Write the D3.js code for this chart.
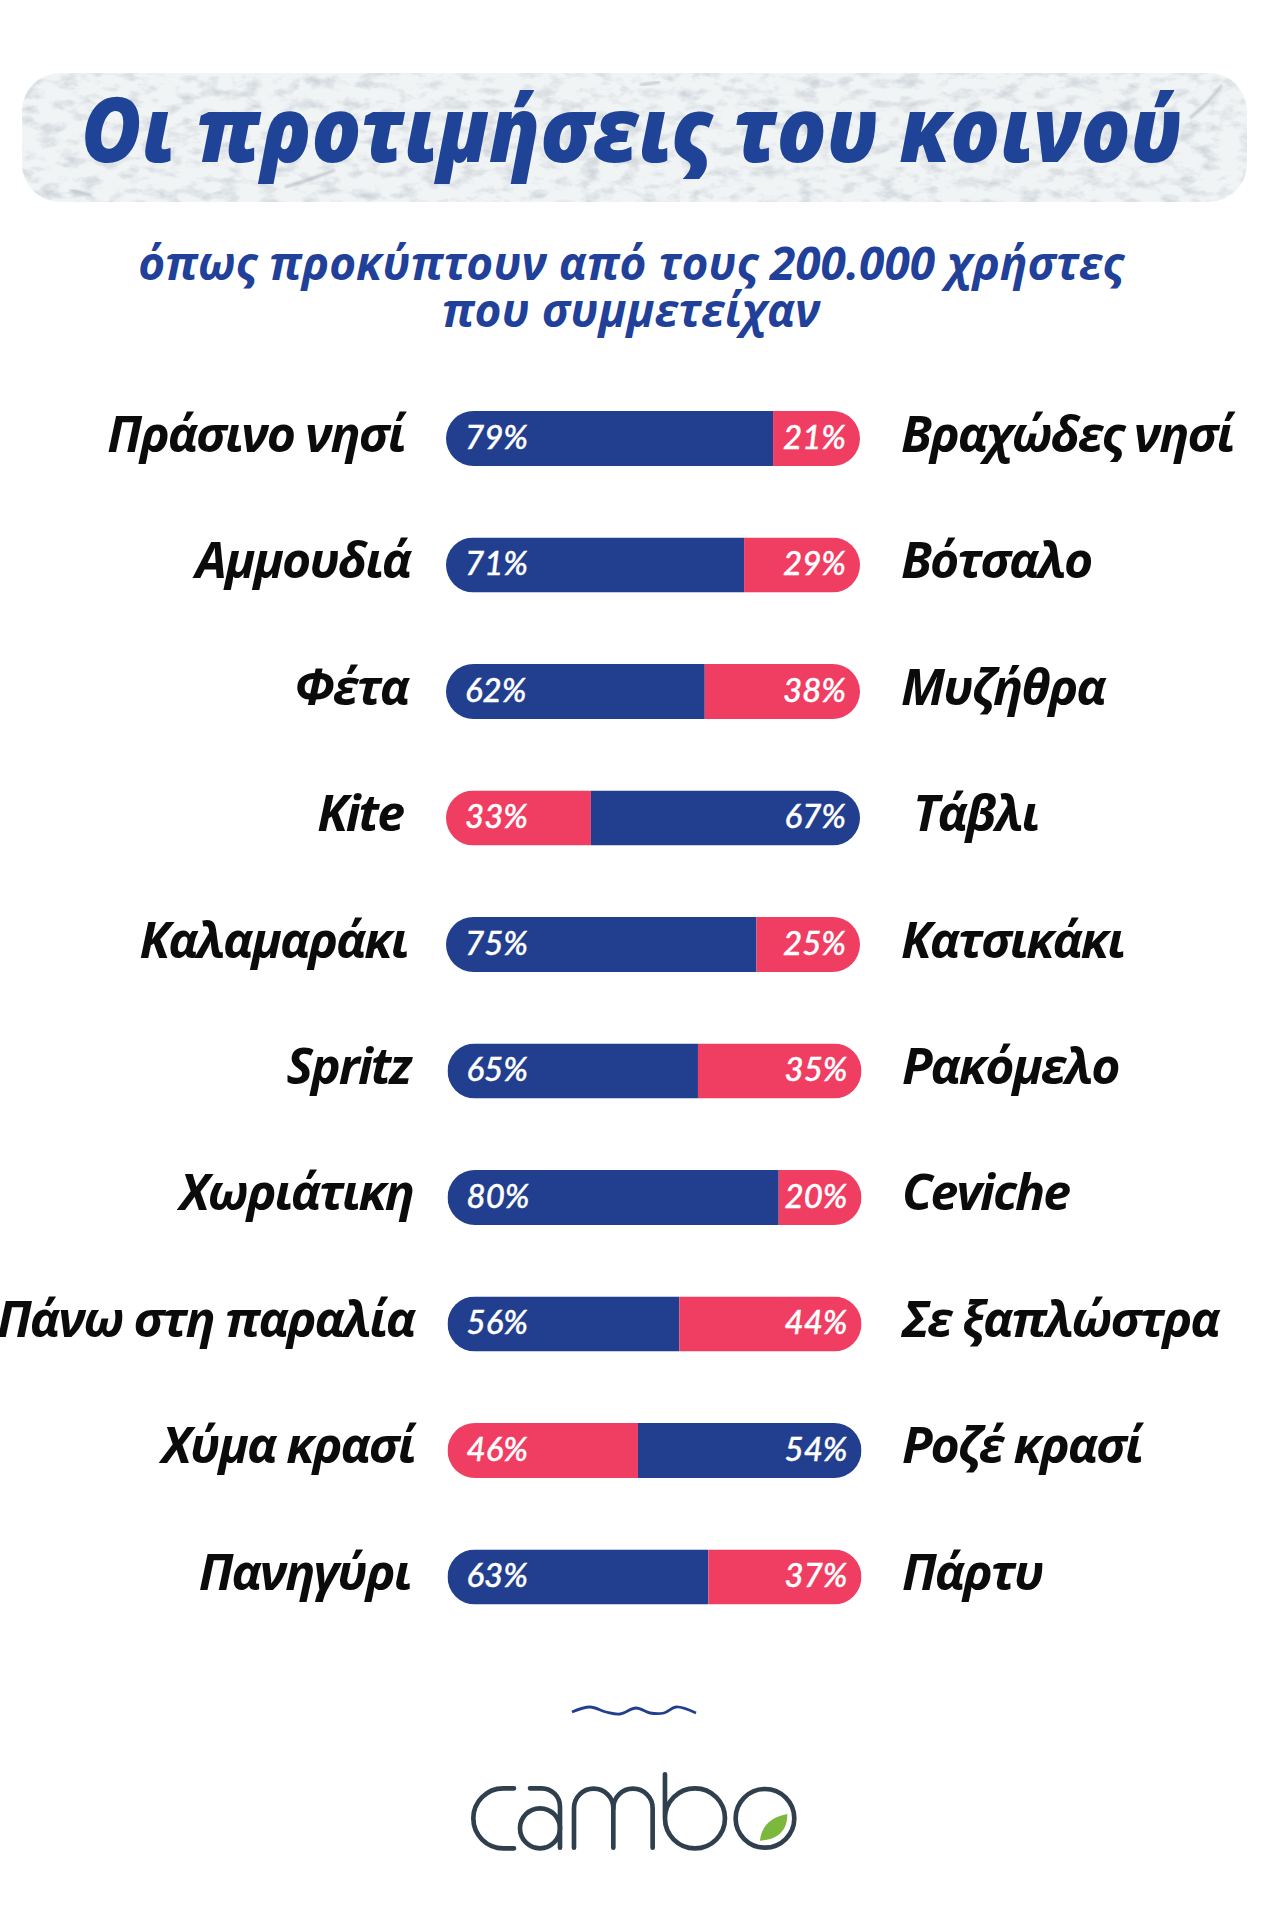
<!DOCTYPE html>
<html>
<head>
<meta charset="utf-8">
<script src="https://cdnjs.cloudflare.com/ajax/libs/d3/7.8.5/d3.min.js"></script>
<style>
  body { margin: 0; background: #fff; }
  svg { display: block; }
</style>
</head>
<body>
<svg id="chart"></svg>
<script>
// data
const leftLabels = ["Πράσινο νησί", "Αμμουδιά", "Φέτα", "Kite", "Καλαμαράκι", "Spritz", "Χωριάτικη", "Πάνω στη παραλία", "Χύμα κρασί", "Πανηγύρι"];
const rightLabels = ["Βραχώδες νησί", "Βότσαλο", "Μυζήθρα", "Τάβλι", "Κατσικάκι", "Ρακόμελο", "Ceviche", "Σε ξαπλώστρα", "Ροζέ κρασί", "Πάρτυ"];
const leftValues = [79, 71, 62, 33, 75, 65, 80, 56, 46, 63];
const rightValues = [21, 29, 38, 67, 25, 35, 20, 44, 54, 37];
// the printed bars do not always agree with their printed labels
const leftBarShares = [79, 72, 62.5, 35, 75, 60.5, 80, 56, 46, 63];

const titleText = "Οι προτιμήσεις του κοινού";
const subtitleLines = ["όπως προκύπτουν από τους 200.000 χρήστες", "που συμμετείχαν"];

const width = 1262, height = 1920;
const blue = "#223f8f", red = "#f03e63", logoColor = "#2f3f4d";

const svg = d3.select("#chart").attr("width", width).attr("height", height);
const defs = svg.append("defs");

// stone texture for the title banner
const stone = defs.append("filter").attr("id", "stone")
  .attr("x", 0).attr("y", 0).attr("width", "100%").attr("height", "100%");
stone.append("feTurbulence").attr("type", "fractalNoise")
  .attr("baseFrequency", "0.05 0.09").attr("numOctaves", 5).attr("seed", 11);
stone.append("feColorMatrix").attr("type", "matrix")
  .attr("values", "0 0 0 0 0.62  0 0 0 0 0.66  0 0 0 0 0.70  2.4 0 0 0 -1.12");
stone.append("feComposite").attr("in2", "SourceGraphic").attr("operator", "in");
const soft = defs.append("filter").attr("id", "soft");
soft.append("feGaussianBlur").attr("stdDeviation", 1.2);

const banner = { x: 22, y: 73, w: 1225, h: 129, r: 38 };
defs.append("clipPath").attr("id", "bannerClip").append("rect")
  .attr("x", banner.x).attr("y", banner.y)
  .attr("width", banner.w).attr("height", banner.h).attr("rx", banner.r);
const bannerG = svg.append("g").attr("clip-path", "url(#bannerClip)");
bannerG.append("rect").attr("x", banner.x).attr("y", banner.y)
  .attr("width", banner.w).attr("height", banner.h).attr("fill", "#f1f4f5");
bannerG.append("rect").attr("x", banner.x).attr("y", banner.y)
  .attr("width", banner.w).attr("height", banner.h).attr("fill", "#fff").attr("filter", "url(#stone)");
// a few cracks in the stone
["M285,187 L305,181 L335,170", "M1190,118 L1205,105 L1222,85", "M70,190 L90,195", "M640,85 L660,82"]
  .forEach(d => bannerG.append("path").attr("d", d).attr("fill", "none")
    .attr("stroke", "#aeb4ba").attr("stroke-width", 2.5).attr("opacity", 0.7).attr("filter", "url(#soft)"));

// title
svg.append("text").text(titleText)
  .attr("x", 81).attr("y", 162)
  .attr("textLength", 1101).attr("lengthAdjust", "spacingAndGlyphs")
  .attr("font-family", "Open Sans").attr("font-weight", 800).attr("font-style", "italic")
  .attr("font-size", 90).attr("fill", "#1f4497");

// subtitle
svg.selectAll("text.subtitle").data(subtitleLines).enter().append("text")
  .attr("class", "subtitle")
  .text(d => d)
  .attr("x", 631)
  .attr("y", (d, i) => 280 + i * 47)
  .attr("text-anchor", "middle")
  .attr("font-family", "Open Sans")
  .attr("font-weight", 700).attr("font-style", "italic")
  .attr("font-size", 46).attr("fill", "#21409a");

// scales
const x = d3.scaleLinear().domain([0, 100]).range([0, 414]);
const y = d3.scaleBand().domain(d3.range(leftLabels.length))
  .range([411, 1604.5]).paddingInner(0.565).paddingOuter(0);
const barH = y.bandwidth();

const rowData = leftLabels.map((d, i) => ({
  left: d, right: rightLabels[i], lv: leftValues[i], rv: rightValues[i], share: leftBarShares[i], i
}));

// pill clip
defs.append("clipPath").attr("id", "pill").append("rect")
  .attr("width", x(100)).attr("height", barH).attr("rx", barH / 2);

const rows = svg.selectAll("g.row").data(rowData).enter().append("g")
  .attr("class", "row")
  .attr("transform", d => `translate(${446 + (d.i > 4 ? 1.5 : 0)},${y(d.i)})`);

const pills = rows.append("g").attr("clip-path", "url(#pill)");
pills.append("rect")
  .attr("x", 0).attr("width", d => x(d.share)).attr("height", barH)
  .attr("fill", d => d.lv > d.rv ? blue : red);
pills.append("rect")
  .attr("x", d => x(d.share)).attr("width", d => x(100 - d.share)).attr("height", barH)
  .attr("fill", d => d.lv > d.rv ? red : blue);

// percent labels
const pct = g => g.attr("y", barH / 2 + 10.5)
  .attr("font-family", "Lato").attr("font-style", "italic").attr("font-weight", 500)
  .attr("font-size", 33).attr("fill", "#fff").attr("stroke", "#fff").attr("stroke-width", 0.4);
rows.append("text").text(d => d.lv + "%").attr("x", 19).call(pct);
rows.append("text").text(d => d.rv + "%").attr("x", x(100) - 14).attr("text-anchor", "end").call(pct);

// side labels, their edges wander a little in the original
const leftEnds = [404, 410, 408, 403, 407, 410, 413, 414, 414, 410];
const rightStarts = [901, 901, 901, 913, 901, 902, 902, 902, 902, 902];
const side = g => g.attr("y", d => y(d.i) + barH / 2 + 13)
  .attr("font-family", "Open Sans").attr("font-style", "italic").attr("font-weight", 700)
  .attr("font-size", 50).attr("letter-spacing", -2).attr("fill", "#0b0b0b");
svg.selectAll("text.left").data(rowData).enter().append("text")
  .attr("class", "left").text(d => d.left)
  .attr("x", d => leftEnds[d.i]).attr("text-anchor", "end").call(side);
svg.selectAll("text.right").data(rowData).enter().append("text")
  .attr("class", "right").text(d => d.right)
  .attr("x", d => rightStarts[d.i]).call(side);

// wave divider
const wave = [[572, 1712], [590, 1707], [606, 1712], [620, 1714], [636, 1708], [650, 1713], [664, 1713], [676, 1707], [696, 1713]];
svg.append("path")
  .attr("d", d3.line().curve(d3.curveCatmullRom)(wave))
  .attr("fill", "none").attr("stroke", blue).attr("stroke-width", 2.8);

// logo, drawn in 3x units of its crop
const logo = svg.append("g").attr("transform", "translate(430,1680) scale(0.3333)")
  .attr("fill", "none").attr("stroke", logoColor).attr("stroke-width", 14).attr("stroke-linecap", "round");
[
  "M252,325 L220,325 A90,90 0 0 0 220,505 L252,505",
  "M300,325 L335,325 A55,55 0 0 1 390,380 L390,503",
  "M390,445 A60,60 0 1 0 330,505 A60,60 0 0 0 390,445",
  "M432,503 L432,385 A59,59 0 0 1 550,385 L550,503",
  "M550,385 A59,59 0 0 1 668,385 L668,503",
  "M705,283 L705,415 A90,90 0 1 0 795,325 A90,90 0 0 0 705,415"
].forEach(d => logo.append("path").attr("d", d));
logo.append("circle").attr("cx", 1005).attr("cy", 415).attr("r", 88);
logo.append("path")
  .attr("d", "M990,482 C995,432 1030,410 1072,402 C1073,445 1050,480 990,482 Z")
  .attr("fill", "#7cb83e").attr("stroke", "none");
</script>
</body>
</html>
